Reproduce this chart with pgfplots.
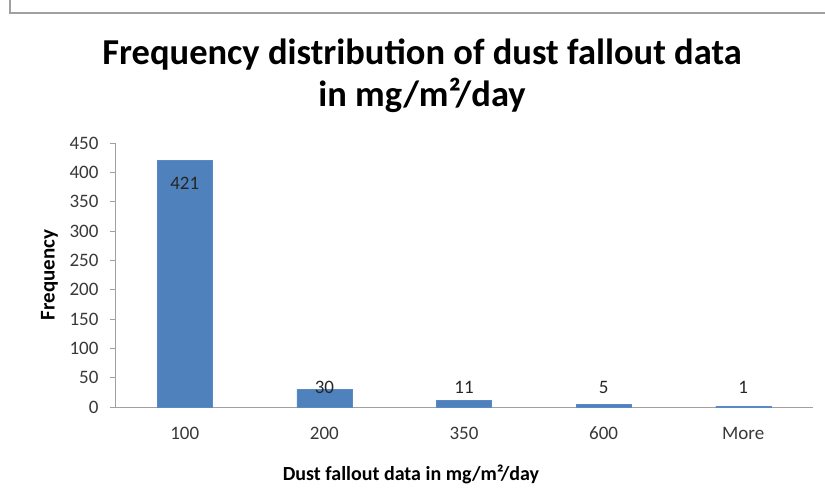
\documentclass[border=0pt]{standalone}
\usepackage{fontspec}
\setmainfont{Carlito}
\usepackage{pgfplots}
\pgfplotsset{compat=1.18}
\definecolor{barblue}{HTML}{4F81BD}
\definecolor{baredge}{HTML}{5A8AC6}
\definecolor{axgray}{HTML}{A0A0A0}
\begin{document}
\begin{tikzpicture}[x=1pt,y=1pt]
\path[use as bounding box] (0,0) rectangle (825,491);
\draw[color=axgray,line width=1.2pt] (10,500) -- (10,478) -- (830,478);
\node[font=\fontsize{36.5}{42}\selectfont\bfseries,align=center] at (422,415) {Frequency distribution of dust fallout data\\in mg/m²/day};
\begin{axis}[
  at={(115pt,84pt)}, anchor=south west,
  scale only axis, width=698pt, height=264pt,
  ymin=0, ymax=450, ytick={0,50,...,450},
  xmin=-0.5, xmax=4.5,
  xtick={0,1,2,3,4}, xticklabels={100,200,350,600,More},
  extra x ticks={-0.5,0.5,1.5,2.5,3.5,4.5}, extra x tick labels={},
  extra x tick style={major tick length=5pt, tick style={axgray, line width=0.8pt}},
  axis lines*=left,
  axis line style={axgray, line width=0.8pt},
  x axis line style={-}, y axis line style={-},
  major tick length=5pt,
  xtick style={draw=none},
  ytick style={axgray, line width=0.8pt},
  tick align=outside,
  ticklabel style={font=\fontsize{19}{20}\selectfont, text=black!78},
  xticklabel style={anchor=base, yshift=-27pt},
  yticklabel style={xshift=-8pt},
  /pgf/number format/assume math mode=true,
  xlabel={Dust fallout data in mg/m²/day},
  xlabel style={font=\fontsize{20}{22}\selectfont\bfseries, at={(axis description cs:0.424,0)}, anchor=center, yshift=-67pt},
  ylabel={Frequency},
  ylabel style={font=\fontsize{21}{22}\selectfont\bfseries, anchor=center, at={(axis description cs:-0.094,0.5)}},
  clip=false,
]
\addplot[ybar, bar width=55pt, fill=barblue, draw=baredge] coordinates {(0,421) (1,30) (2,11) (3,5) (4,1)};
\addplot[only marks, mark=none, nodes near coords, point meta=explicit symbolic,
  nodes near coords style={font=\fontsize{19}{20}\selectfont, text=black!85, anchor=center}]
  coordinates {(0,382)[421] (1,34)[30] (2,34)[11] (3,34)[5] (4,34)[1]};
\end{axis}
\end{tikzpicture}
\end{document}
